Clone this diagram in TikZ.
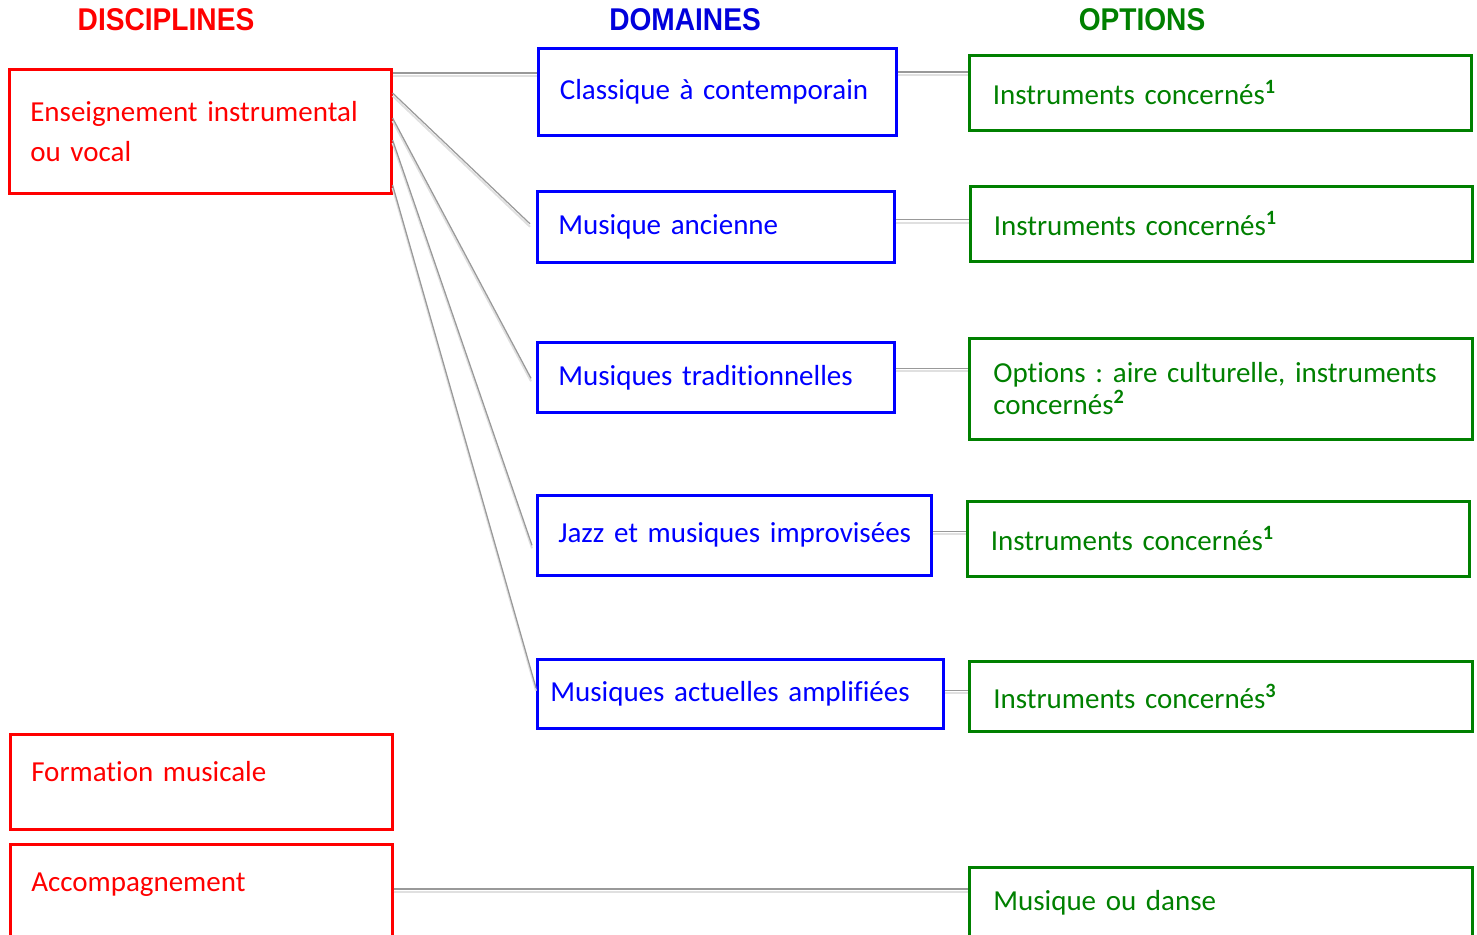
\documentclass[tikz,border=0pt]{standalone}
\usepackage{fontspec}
\setmainfont[Ligatures=NoCommon, WordSpace={0.85}]{Carlito}
\newfontfamily\titrefont{Liberation Sans}
\frenchspacing
\definecolor{rouge}{RGB}{255,0,0}
\definecolor{bleu}{RGB}{0,0,255}
\definecolor{vert}{RGB}{0,128,0}
\definecolor{bleutitre}{RGB}{0,0,220}
\tikzset{
  boite/.style={draw, line width=1.5pt, anchor=north west, align=left, inner xsep=0.42cm, font=\fontsize{16.5}{23}\selectfont},
  discipline/.style={boite, draw=rouge, text=rouge, minimum width=7.62cm, text width=6.8cm},
  domaine/.style={boite, draw=bleu, text=bleu},
  option/.style={boite, draw=vert, text=vert, minimum width=10.04cm, text width=9.1cm},
  titre/.style={font=\titrefont\bfseries\fontsize{16}{18}\selectfont, yscale=1.12},
  lien/.style={draw=black!40, line width=0.7pt, preaction={draw=black!12, line width=1.1pt, transform canvas={yshift=-1.7pt}}}
}
\newcommand{\exposant}[1]{\textsuperscript{\textbf{#1}}}
\begin{document}
\begin{tikzpicture}[x=0.02cm, y=-0.02cm]
\useasboundingbox (0,0) rectangle (1477,935);

% Titres des colonnes
\node[titre, text=rouge] (tdisc) at (166,20) {DISCIPLINES};
\node[titre, text=bleutitre] (tdom) at (685,20) {DOMAINES};
\node[titre, text=vert] (topt) at (1142,20) {OPTIONS};

% Disciplines
\node[discipline, minimum height=2.48cm] (ens) at (8,68) {Enseignement instrumental\\ou vocal};
\node[discipline, minimum width=7.6cm, minimum height=1.9cm, text depth=11.5pt] (form) at (9,733) {Formation musicale};
\node[discipline, minimum width=7.6cm, minimum height=2cm, text depth=14pt] (acc) at (9,843) {Accompagnement};

% Domaines
\node[domaine, minimum width=7.16cm, minimum height=1.74cm, text width=6.3cm] (classique) at (537,47) {Classique à contemporain};
\node[domaine, minimum width=7.14cm, minimum height=1.42cm, text width=6.3cm] (ancienne) at (536,190) {Musique ancienne};
\node[domaine, minimum width=7.14cm, minimum height=1.4cm, text width=6.3cm] (trad) at (536,341) {Musiques traditionnelles};
\node[domaine, minimum width=7.88cm, minimum height=1.6cm, text width=7.04cm] (jazz) at (536,494) {\mbox{Jazz et musiques improvisées}};
\node[domaine, minimum width=8.12cm, minimum height=1.38cm, inner xsep=0.26cm, text width=7.6cm] (actuelles) at (536,658) {Musiques actuelles amplifiées};

% Options
\node[option, minimum height=1.5cm] (opt1) at (968,54) {Instruments concernés\exposant{1}};
\node[option, minimum height=1.5cm] (opt2) at (969,185) {Instruments concernés\exposant{1}};
\node[option, minimum width=10.06cm, minimum height=2.02cm, font=\fontsize{16.5}{18}\selectfont] (opt3) at (968,337) {Options : aire culturelle, instruments\\concernés\exposant{2}};
\node[option, minimum height=1.5cm] (opt4) at (966,500) {Instruments concernés\exposant{1}};
\node[option, minimum width=10.06cm, minimum height=1.4cm] (opt5) at (968,660) {Instruments concernés\exposant{3}};
\node[option, minimum width=10.06cm, minimum height=2cm, text depth=19pt] (opt6) at (968,866) {Musique ou danse};

% Liens disciplines -> domaines
\coordinate (e1) at ([yshift=-0.1cm]ens.north east);
\draw[lien] (e1) -- (e1 -| classique.west);
\draw[lien] ([yshift=-0.5cm]ens.north east) -- ([xshift=-0.12cm, yshift=0.06cm]ancienne.west);
\draw[lien] ([yshift=-1cm]ens.north east) -- ([xshift=-0.1cm, yshift=-0.02cm]trad.west);
\draw[lien] ([yshift=-1.44cm]ens.north east) -- ([xshift=-0.08cm, yshift=-0.2cm]jazz.west);
\draw[lien] ([yshift=-2.34cm]ens.north east) -- ([yshift=0.12cm]actuelles.west);

% Liens domaines -> options
\coordinate (d1) at ([yshift=-0.5cm]classique.north east);
\draw[lien] (d1) -- (d1 -| opt1.west);
\coordinate (d2) at ([yshift=0.14cm]ancienne.east);
\draw[lien] (d2) -- (d2 -| opt2.west);
\coordinate (d3) at ([yshift=0.18cm]trad.east);
\draw[lien] (d3) -- (d3 -| opt3.west);
\coordinate (d4) at ([yshift=0.08cm]jazz.east);
\draw[lien] (d4) -- (d4 -| opt4.west);
\coordinate (d5) at ([yshift=0.07cm]actuelles.east);
\draw[lien] (d5) -- (d5 -| opt5.west);
\coordinate (a1) at ([yshift=-0.92cm]acc.north east);
\draw[lien] (a1) -- (a1 -| opt6.west);
\end{tikzpicture}
\end{document}
